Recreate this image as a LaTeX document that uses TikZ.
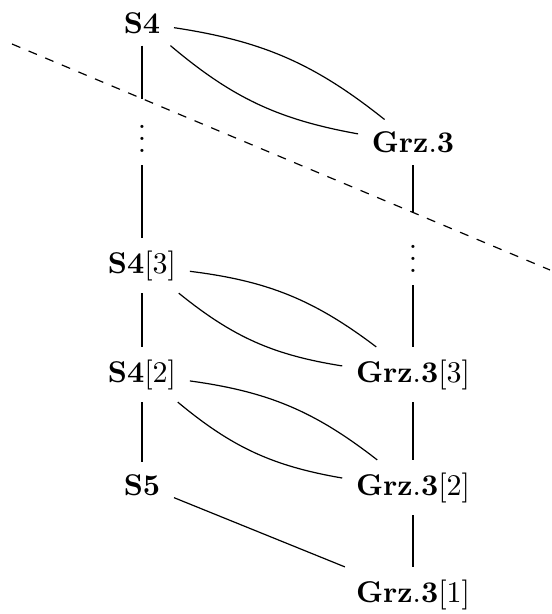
\documentclass[tikz,border=0pt]{standalone}
\newcommand\tightvdots{\vbox{\baselineskip4pt \lineskiplimit0pt \hbox{.}\hbox{.}\hbox{.}}}
\begin{document}
\begin{tikzpicture}[x=0.33333pt,y=-0.33333pt,
  cell/.style={anchor=base,inner xsep=4.4pt,inner ysep=4pt},
  every path/.style={thin}]
\useasboundingbox (0,0) rectangle (551,614);
% nodes
\node[cell] (S4)  at (142,33)    {$\mathbf{S4}$};
\node[cell] (G)   at (413,152.7) {$\mathbf{Grz.3}$};
\node[cell] (vl)  at (142,152.5) {\tightvdots};
\node[cell] (S43) at (142,273)   {$\mathbf{S4}[3]$};
\node[cell] (vr)  at (413,272.5) {\tightvdots};
\node[cell] (S42) at (142,382)   {$\mathbf{S4}[2]$};
\node[cell] (G3)  at (413,382)   {$\mathbf{Grz.3}[3]$};
\node[cell] (S5)  at (142,495)   {$\mathbf{S5}$};
\node[cell] (G2)  at (413,495)   {$\mathbf{Grz.3}[2]$};
\node[cell] (G1)  at (413,602)   {$\mathbf{Grz.3}[1]$};
% dashed cut line
\coordinate (D1) at (12,44);
\coordinate (D2) at (550,270);
\coordinate (m1) at (142,98.6);
\coordinate (m2) at (413,212.4);
\draw[dashed] (D1) -- (D2);
% vertical connectors
\draw (S4) -- (m1);
\draw (G) -- (m2);
\draw (vl) -- (S43);
\draw (S43) -- (S42);
\draw (S42) -- (S5);
\draw (vr) -- (G3);
\draw (G3) -- (G2);
\draw (G2) -- (G1);
% curved connectors
\draw (S4) to[bend left=15] (G);
\draw (S4) to[bend right=15] (G);
\draw (S43) to[bend left=15] (G3);
\draw (S43) to[bend right=15] (G3);
\draw (S42) to[bend left=15] (G2);
\draw (S42) to[bend right=15] (G2);
\draw (S5) -- (G1);
\end{tikzpicture}
\end{document}
